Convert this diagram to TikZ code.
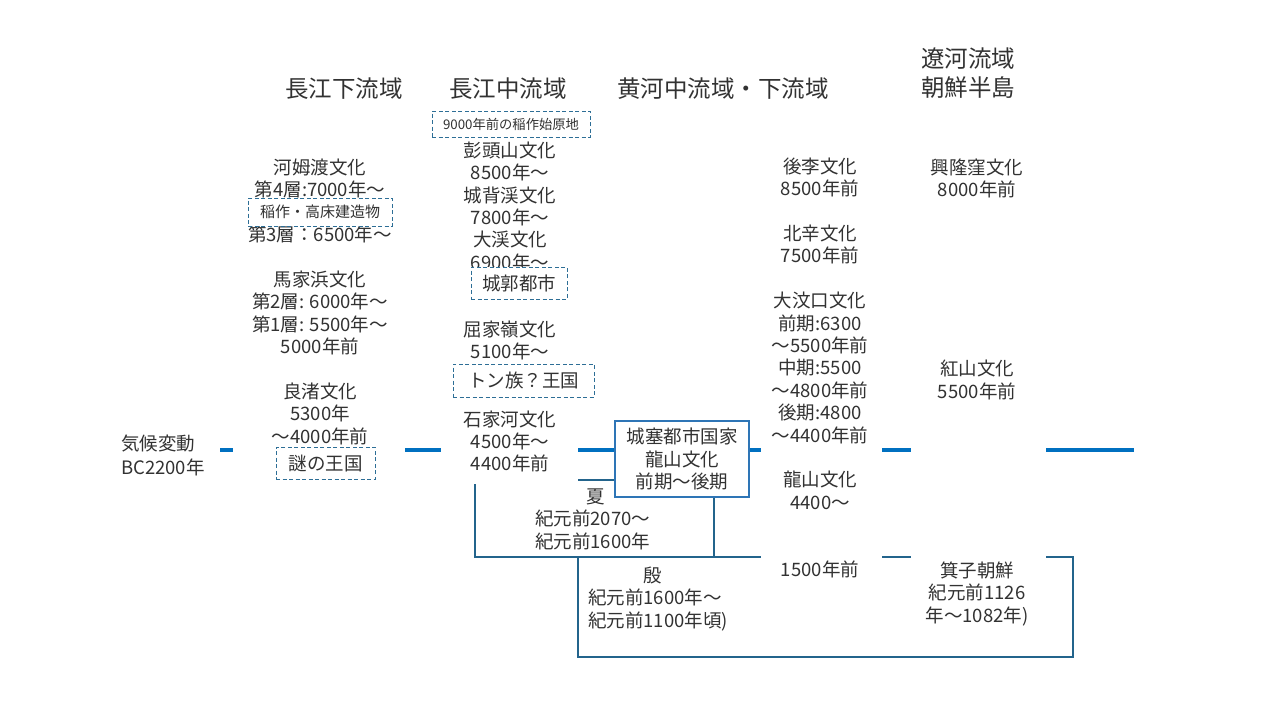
\documentclass[tikz,border=0pt]{standalone}
\usepackage{fontspec}
\setmainfont{Noto Sans CJK JP}
\definecolor{tlc}{RGB}{0,112,192}
\definecolor{thinc}{RGB}{35,100,140}
\definecolor{dashc}{RGB}{45,110,150}
\definecolor{jboxc}{RGB}{46,117,182}
\definecolor{txtc}{RGB}{50,50,50}
\begin{document}
\begin{tikzpicture}[x=1pt,y=-1pt,
  coltext/.style={text=txtc, font=\fontsize{18.5pt}{22.4pt}\selectfont, align=center, inner sep=0pt, anchor=north},
  lefttext/.style={text=txtc, font=\fontsize{18.5pt}{22.4pt}\selectfont, align=left, inner sep=0pt, anchor=north west},
  ttl/.style={text=txtc, font=\fontsize{23.5pt}{29.5pt}\selectfont, align=center, inner sep=0pt},
  mask/.style={fill=white, draw=none, inner sep=0pt, anchor=north west},
  dbox/.style={draw=dashc, line width=0.9pt, dash pattern=on 4pt off 2.5pt, fill=white, inner sep=0pt, text=txtc, font=\fontsize{18.5pt}{22.4pt}\selectfont},
  thinline/.style={draw=thinc, line width=1.3pt},
  timeline/.style={draw=tlc, line width=4pt},
  statebox/.style={draw=jboxc, line width=1.2pt, fill=white, inner sep=0pt, text=txtc, align=center, font=\fontsize{18.5pt}{22.4pt}\selectfont}]

\useasboundingbox (0,0) rectangle (1280,720);

% timeline
\coordinate (tlA) at (220,450);
\coordinate (tlB) at (1134,450);
\draw[timeline] (tlA) -- (tlB);

% Xia and Yin frames
\coordinate (xiaA) at (475,480);
\coordinate (xiaB) at (714,557);
\coordinate (yinA) at (578,557);
\coordinate (yinB) at (1073,657);
\draw[thinline] (xiaA) rectangle (xiaB);
\draw[thinline] (yinA) rectangle (yinB);

% white masks of the text columns
\node[mask, minimum width=172pt, minimum height=345pt] (m1) at (233,145) {};
\node[mask, minimum width=137pt, minimum height=344pt] (m2) at (441,140) {};
\node[mask, minimum width=121pt, minimum height=435pt] (m3) at (761,150) {};
\node[mask, minimum width=135pt, minimum height=480pt] (m4) at (911,150) {};

% titles
\node[ttl] (t1) at (344,89) {長江下流域};
\node[ttl] (t2) at (508,89) {長江中流域};
\node[ttl] (t3) at (723,89) {黄河中流域・下流域};
\node[ttl] (t4) at (968,73) {遼河流域\\朝鮮半島};

% columns
\node[coltext] (c1) at (320,157) {\rule{0pt}{17pt}河姆渡文化\\第4層:7000年〜\\[22.4pt]第3層：6500年〜\\[22.4pt]馬家浜文化\\第2層: 6000年〜\\第1層: 5500年〜\\5000年前\\[22.4pt]良渚文化\\5300年\\〜4000年前};
\node[coltext] (c2) at (510,140) {\rule{0pt}{17pt}彭頭山文化\\8500年〜\\城背渓文化\\7800年〜\\大渓文化\\6900年〜\\[44.8pt]屈家嶺文化\\5100年〜\\[44.8pt]石家河文化\\4500年〜\\4400年前};
\node[coltext] (c3) at (820,156) {\rule{0pt}{17pt}後李文化\\8500年前\\[22.4pt]北辛文化\\7500年前\\[22.4pt]大汶口文化\\前期:6300\\〜5500年前\\中期:5500\\〜4800年前\\後期:4800\\〜4400年前\\[22.4pt]龍山文化\\4400〜\\[44.8pt]1500年前};
\node[coltext] (c4) at (977,157) {\rule{0pt}{17pt}興隆窪文化\\8000年前\\[156.8pt]紅山文化\\5500年前\\[156.8pt]箕子朝鮮\\紀元前1126\\年〜1082年)};

\node[lefttext] (clim) at (121,433) {\rule{0pt}{17pt}気候変動\\[1.6pt]BC2200年};

\node[lefttext] (xia) at (535,486) {\rule{0pt}{17pt}\hspace*{51pt}夏\\紀元前2070〜\\紀元前1600年};
\node[lefttext] (yin) at (588,565) {\rule{0pt}{17pt}\hspace*{55pt}殷\\紀元前1600年〜\\紀元前1100年頃)};

% dashed boxes
\node[dbox, minimum width=144pt, minimum height=28pt, font=\fontsize{15pt}{17pt}\selectfont] (b1) at (320,212) {稲作・高床建造物};
\node[dbox, minimum width=158pt, minimum height=26pt, font=\fontsize{13.3pt}{15pt}\selectfont] (b2) at (511,124) {9000年前の稲作始原地};
\node[dbox, minimum width=96pt, minimum height=32pt] (b3) at (519,283) {城郭都市};
\node[dbox, minimum width=141pt, minimum height=33pt] (b4) at (523.5,380.5) {トン族？王国};
\node[dbox, minimum width=99pt, minimum height=32pt] (b5) at (325.5,463) {謎の王国};

% city-state box
\node[statebox, minimum width=134pt, minimum height=76pt] (joss) at (682,459) {城塞都市国家\\龍山文化\\前期〜後期};

\end{tikzpicture}
\end{document}
